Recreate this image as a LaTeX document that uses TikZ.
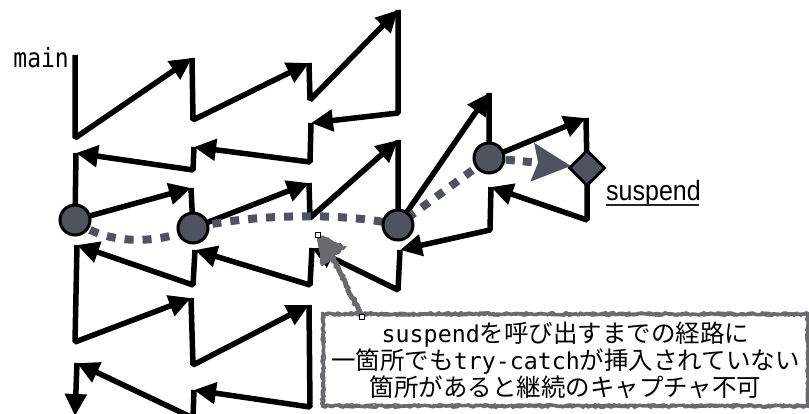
\documentclass[tikz,border=0pt]{standalone}
\usepackage{fontspec}
\newfontfamily\jpfont{Noto Sans CJK JP}
\newfontfamily\monofont{DejaVu Sans Mono}
\newfontfamily\hwfont[Scale=0.95]{DejaVu Sans Mono}
\newfontfamily\labfont{Liberation Sans}
\usetikzlibrary{arrows.meta,shapes.geometric,decorations.pathmorphing}
\definecolor{slate}{RGB}{78,83,95}
\definecolor{sketch}{RGB}{105,105,110}
\tikzset{
  flow/.style={line width=5.5pt, line join=bevel, -{Triangle[length=22pt,width=21pt]}},
  stop/.style={circle, draw=black, line width=3pt, fill=slate, minimum size=30pt, inner sep=0pt},
  endpt/.style={diamond, draw=black, line width=3pt, fill=slate, minimum size=36pt, inner sep=0pt},
  trail/.style={line width=8pt, draw=slate, dash pattern=on 9pt off 9pt},
  rough/.style={draw=sketch, line width=3.5pt, decorate, decoration={random steps, segment length=2.5pt, amplitude=1pt}},
  handle/.style={draw=black, fill=white, line width=0.6pt, minimum size=5pt, inner sep=0pt, rectangle}
}
\begin{document}
\begin{tikzpicture}[x=1pt,y=-1pt]
\useasboundingbox (0,0) rectangle (809,414);
\pgfmathsetseed{7}
% turning points
\coordinate (m0) at (75,55);
\coordinate (p1) at (75,138);
\coordinate (t1) at (192,58);
\coordinate (p2) at (193,120);
\coordinate (t2) at (309,63);
\coordinate (p3) at (310,100);
\coordinate (t3) at (398,10);
\coordinate (p4) at (398,113);
\coordinate (t4) at (311,123);
\coordinate (p5) at (310,162);
\coordinate (t5) at (194,147);
\coordinate (p6) at (193,170);
\coordinate (t6) at (76,153);
\coordinate (t7) at (191,188);
\coordinate (t8) at (309,183);
\coordinate (p9) at (310,218);
\coordinate (t9) at (398,140);
\coordinate (t10) at (489,93);
\coordinate (t11) at (586,118);
\coordinate (p12) at (587,220);
\coordinate (t12) at (491,187);
\coordinate (p13) at (490,230);
\coordinate (t13) at (400,250);
\coordinate (p14) at (398,290);
\coordinate (t14) at (312,248);
\coordinate (p15) at (310,285);
\coordinate (t15) at (195,250);
\coordinate (p16) at (193,285);
\coordinate (t16) at (77,245);
\coordinate (p17) at (75,342);
\coordinate (t17) at (191,298);
\coordinate (p18) at (193,365);
\coordinate (t18) at (309,305);
\coordinate (p19) at (310,407);
\coordinate (t19) at (194,390);
\coordinate (p20) at (193,418);
\coordinate (t20) at (77,363);
\coordinate (fin) at (75,416);
% stops
\coordinate (A0) at (75,220);
\coordinate (B0) at (193,228);
\coordinate (C0) at (398,225);
\coordinate (D0) at (489,158);
\coordinate (S0) at (587,168);

\node[font=\monofont\fontsize{23}{23}\selectfont, anchor=east, inner sep=0pt] (mainlbl) at (69,58) {\scalebox{1}[1.15]{main}};

% black flow
\draw[flow] (m0) -- (p1) -- (t1);
\draw[flow] (t1) -- (p2) -- (t2);
\draw[flow] (t2) -- (p3) -- (t3);
\draw[flow] (t3) -- (p4) -- (t4);
\draw[flow] (t4) -- (p5) -- (t5);
\draw[flow] (t5) -- (p6) -- (t6);
\draw[flow] (t6) -- (A0) -- (t7);
\draw[flow] (t7) -- (B0) -- (t8);
\draw[flow] (t8) -- (p9) -- (t9);
\draw[flow] (t9) -- (C0) -- (t10);
\draw[flow] (t10) -- (D0) -- (t11);
\draw[flow] (t11) -- (S0) -- (p12) -- (t12);
\draw[flow] (t12) -- (p13) -- (t13);
\draw[flow] (t13) -- (p14) -- (t14);
\draw[flow] (t14) -- (p15) -- (t15);
\draw[flow] (t15) -- (p16) -- (t16);
\draw[flow] (t16) -- (p17) -- (t17);
\draw[flow] (t17) -- (p18) -- (t18);
\draw[flow] (t18) -- (p19) -- (t19);
\draw[flow] (t19) -- (p20) -- (t20);
\draw[flow] (t20) -- (fin);

% gray trail
\draw[trail] (A0) .. controls (105,246) and (160,244) .. (B0)
  .. controls (250,214) and (345,212) .. (C0) -- (D0);
\draw[line width=8pt, draw=slate, dash pattern=on 9pt off 8pt, -{Stealth[length=38pt,width=37pt,inset=5pt]}] (D0) -- (571,166);

% nodes on top
\node[stop] (A) at (A0) {};
\node[stop] (B) at (B0) {};
\node[stop] (C) at (C0) {};
\node[stop] (D) at (D0) {};
\node[endpt] (S) at (S0) {};

\node[font=\labfont\fontsize{25}{25}\selectfont, anchor=base west, inner sep=0pt] (susp) at (606,201) {\scalebox{1}[1.12]{suspend}};
\draw[line width=1.5pt, draw=black!85] (susp.base west) ++(0,4) -- ++(93,0);

% callout
\node[draw=none, fill=white, minimum width=485pt, minimum height=92pt, inner sep=0pt, align=center,
      font=\jpfont\fontsize{24.5}{27}\selectfont] (note) at (565.5,360)
  {{\hwfont suspend}を呼び出すまでの経路に\\一箇所でも{\hwfont try-catch}が挿入されていない\\箇所があると継続のキャプチャ不可};
\draw[rough] (note.north west) rectangle (note.south east);
\draw[rough, line width=1.5pt] ([shift={(1.5,1.5)}]note.north west) rectangle ([shift={(-1.5,-1.5)}]note.south east);
\coordinate (tipq) at (318,235);
\coordinate (baseq) at (362,317);
\draw[rough, line width=5pt] (baseq) -- (331,254);
\fill[sketch] (tipq) -- (345,247) -- (322,265) -- cycle;
\draw[rough, line width=2pt] (tipq) -- (345,247) -- (322,265) -- cycle;
\node[handle] (h1) at (tipq) {};
\node[handle] (h2) at (baseq) {};
\end{tikzpicture}
\end{document}
